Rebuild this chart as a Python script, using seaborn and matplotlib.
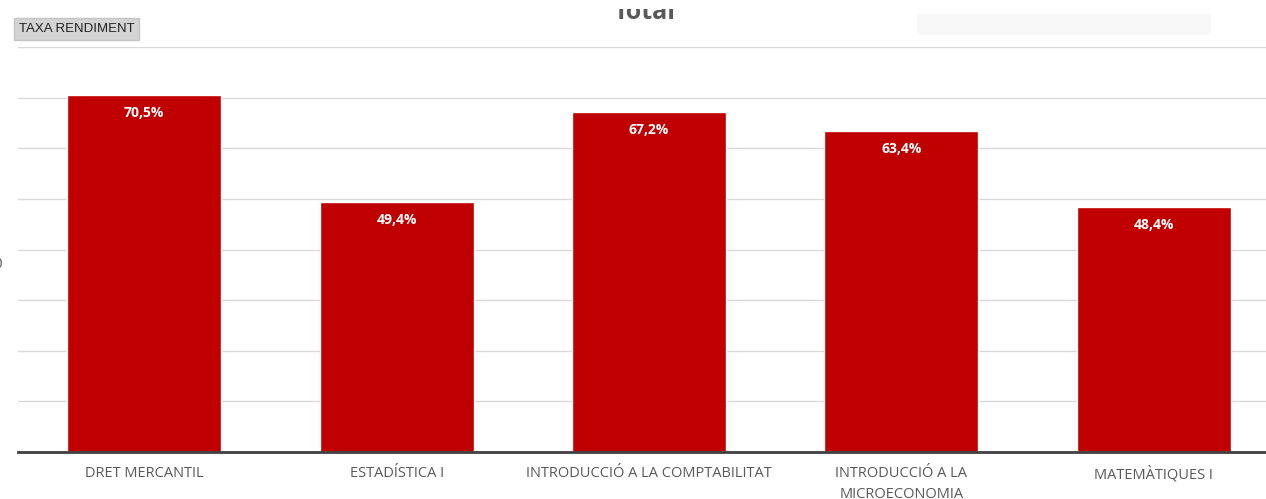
import pandas as pd
import matplotlib.pyplot as plt
import seaborn as sns

# --- DONNEES ---
assignatures = ["DRET MERCANTIL", "ESTADÍSTICA I", "INTRODUCCIÓ A LA COMPTABILITAT",
                "INTRODUCCIÓ A LA\nMICROECONOMIA", "MATEMÀTIQUES I"]
taxa = [70.5, 49.4, 67.2, 63.4, 48.4]
etiquetes = ["70,5%", "49,4%", "67,2%", "63,4%", "48,4%"]

df = pd.DataFrame({"Assignatura": assignatures, "Taxa": taxa})

sns.set_style("white")
plt.rcParams['font.family'] = ['Open Sans', 'DejaVu Sans']

W, H = 1266, 499
fig = plt.figure(figsize=(W / 100, H / 100), dpi=100)
# l'axe deborde a droite, comme la capture d'origine
ax = fig.add_axes([18 / W, 47 / H, (1280 - 18) / W, 405 / H])

sns.barplot(data=df, x="Assignatura", y="Taxa", color="#c00000", width=0.61,
            saturation=1, ax=ax)

ax.set_ylim(0, 80)
ax.set_yticks(range(0, 81, 10))
ax.set_yticklabels([])
ax.tick_params(axis='y', length=0)
ax.tick_params(axis='x', length=0, pad=10, labelsize=10.5, colors="#595959")
ax.grid(axis='y', color="#d9d9d9", linewidth=1)
ax.set_axisbelow(True)
ax.set_xlabel("")
ax.set_ylabel("")
for s in ["top", "right", "left"]:
    ax.spines[s].set_visible(False)
ax.spines["bottom"].set_color("#404040")
ax.spines["bottom"].set_linewidth(2)

for lbl in ax.get_xticklabels():
    lbl.set_linespacing(1.6)
    lbl.set_verticalalignment("top")

# valeurs dans les barres
for i, (v, txt) in enumerate(zip(taxa, etiquetes)):
    ax.annotate(txt, (i, v), xytext=(0, -13), textcoords="offset points",
                ha="center", va="center", color="white", fontsize=10,
                fontweight="bold")

# titre coupe en haut (la capture masque le haut)
fig.text(645 / W, (H - 19) / H, "Total", ha="center", va="baseline",
         fontsize=18, fontweight="bold", color="#595959")
fig.patches.append(plt.Rectangle((0, (H - 9) / H), 1, 9 / H,
                                 transform=fig.transFigure, facecolor="white",
                                 edgecolor="none", zorder=10))

# bouton du champ
fig.text(19 / W, (H - 29) / H, "TAXA RENDIMENT", ha="left", va="center",
         fontsize=9.5, color="#222222", family=["Liberation Sans", "DejaVu Sans"],
         bbox=dict(boxstyle="square,pad=0.35", facecolor="#d4d4d4",
                   edgecolor="#c4c4c4"))

# zone de legende vide
fig.patches.append(plt.Rectangle((917 / W, (H - 35) / H), 294 / W, 21 / H,
                                 transform=fig.transFigure, facecolor="#f8f8f8",
                                 edgecolor="none"))

# titre d'axe y tronque
fig.text(-0.002, (H - 265) / H, "0", ha="center", va="center", fontsize=11,
         color="#595959")

plt.savefig("out.png", dpi=100)
plt.close(fig)
